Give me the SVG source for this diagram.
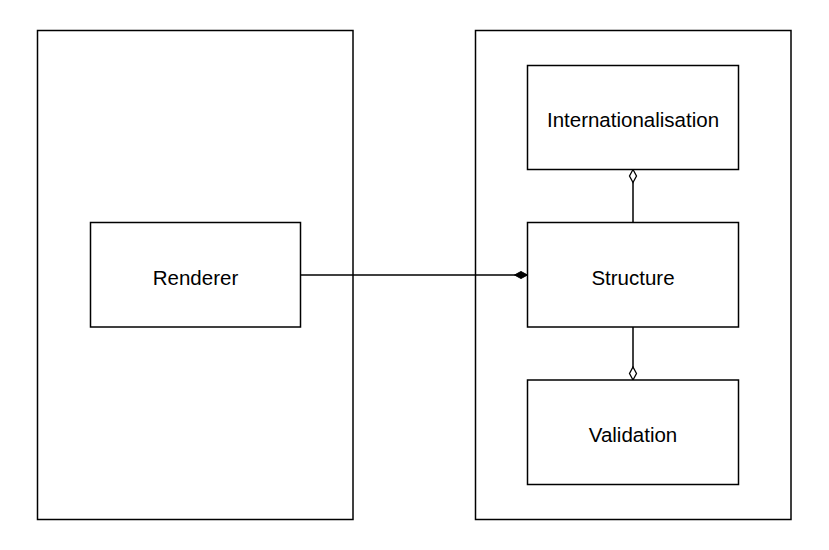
<svg xmlns="http://www.w3.org/2000/svg" width="829" height="550" viewBox="0 0 829 550">
<style>
.box{fill:#fff;stroke:#000;stroke-width:1.5}
.lbl{font-family:"Liberation Sans",Arial,sans-serif;font-size:20.5px;fill:#000;text-anchor:middle;dominant-baseline:central}
.edge{fill:none;stroke:#000;stroke-width:1.5}
</style>
<defs>
<marker id="filled" markerUnits="userSpaceOnUse" markerWidth="16" markerHeight="10" refX="14" refY="5" orient="auto">
<path d="M1,5 L7.5,1.5 L14,5 L7.5,8.5 Z" fill="#000" stroke="#000" stroke-width="1"/>
</marker>
<marker id="hollow" markerUnits="userSpaceOnUse" markerWidth="16" markerHeight="10" refX="14" refY="5" orient="auto">
<path d="M1,5 L7.5,1.5 L14,5 L7.5,8.5 Z" fill="#fff" stroke="#000" stroke-width="1.3"/>
</marker>
</defs>
<rect x="0" y="0" width="829" height="550" fill="#fff"/>
<g id="container-left"><rect class="box" x="37.5" y="30.5" width="315.5" height="489"/></g>
<g id="container-right"><rect class="box" x="475.5" y="30.5" width="315.5" height="489"/></g>
<g id="connectors">
<path class="edge" d="M300.5,275 L527.5,275" marker-end="url(#filled)"/>
<path class="edge" d="M633,222.5 L633,169.5" marker-end="url(#hollow)"/>
<path class="edge" d="M633,327 L633,380" marker-end="url(#hollow)"/>
</g>
<g id="renderer"><rect class="box" x="90.5" y="222.5" width="210" height="104.5"/><text class="lbl" x="195.5" y="277.5">Renderer</text></g>
<g id="internationalisation"><rect class="box" x="527.5" y="65.5" width="211" height="104"/><text class="lbl" x="633" y="119.5">Internationalisation</text></g>
<g id="structure"><rect class="box" x="527.5" y="222.5" width="211" height="104.5"/><text class="lbl" x="633" y="277.5">Structure</text></g>
<g id="validation"><rect class="box" x="527.5" y="380" width="211" height="104.5"/><text class="lbl" x="633" y="434.5">Validation</text></g>
</svg>
